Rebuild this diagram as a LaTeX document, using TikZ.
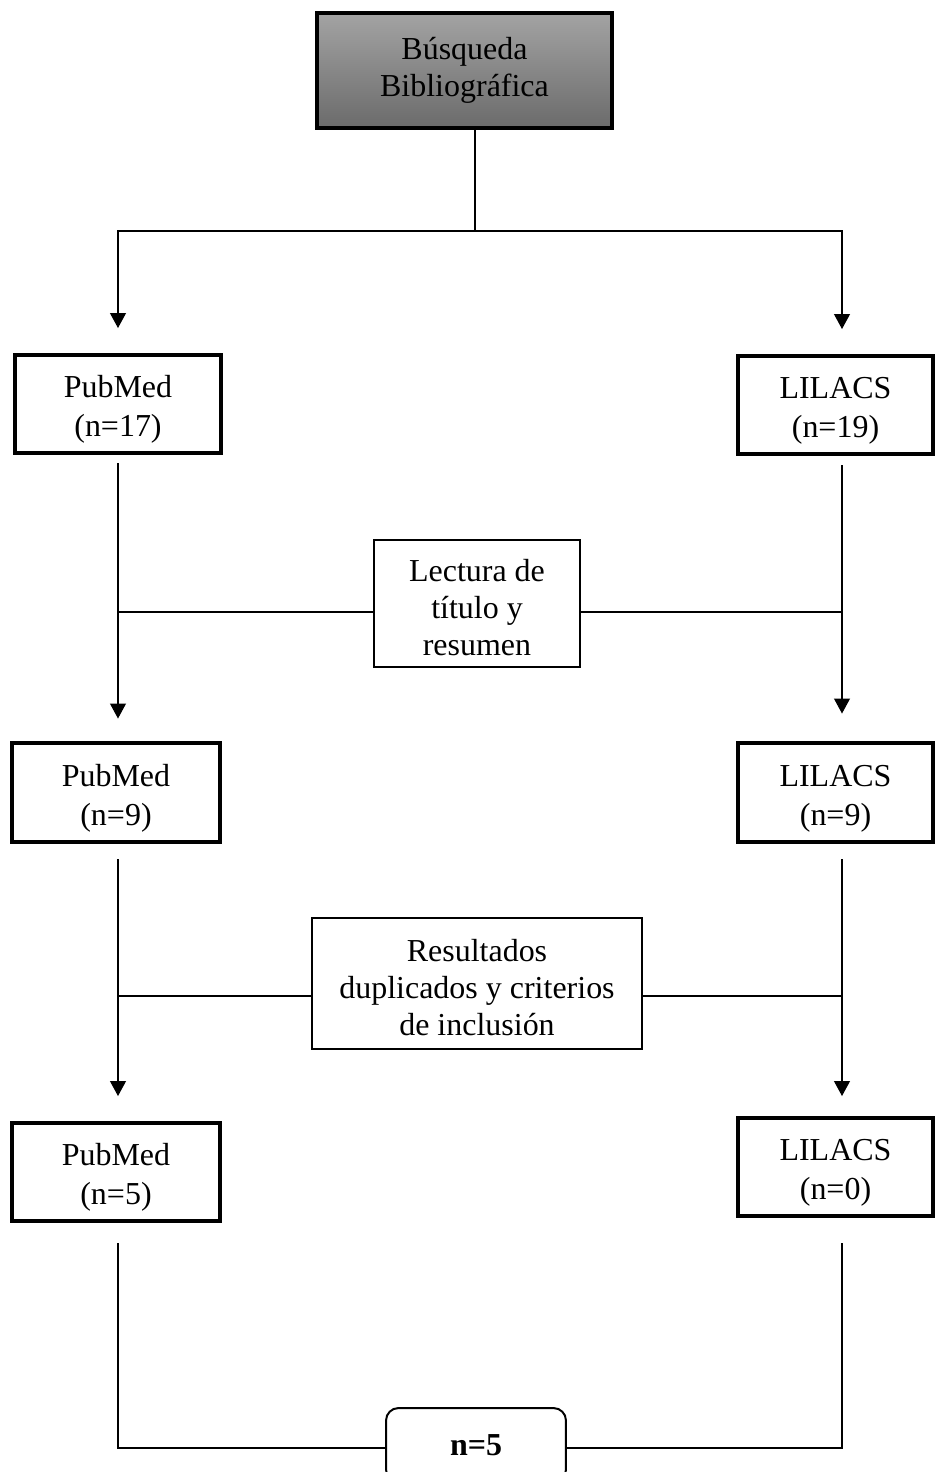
\documentclass[tikz,border=0pt]{standalone}
\usepackage{fontspec}
\setmainfont{Liberation Serif}
\usetikzlibrary{arrows.meta}

\newcommand{\dbstrut}{\rule{0pt}{19.2pt}}
\newcommand{\stagestrut}{\rule{0pt}{17.5pt}}

\tikzset{
  txt/.style={align=center, inner sep=0pt, font=\fontsize{18.2}{21}\selectfont},
  dbbox/.style={txt, draw, line width=0.08cm, font=\fontsize{18.2}{22.2}\selectfont},
  stagebox/.style={txt, draw, line width=0.04cm},
  searchbox/.style={txt, draw, line width=0.08cm, top color=black!36, bottom color=black!58},
  finalbox/.style={txt, draw, line width=0.04cm, rounded corners=0.25cm, font=\fontsize{18.2}{21}\selectfont\bfseries},
  link/.style={line width=0.6pt},
  arr/.style={link, -{Triangle[width=0.32cm,length=0.3cm]}}
}

\begin{document}
\begin{tikzpicture}[x=0.02cm, y=-0.02cm]
    \useasboundingbox (0,0) rectangle (935,1472);

    \node[searchbox, minimum width=5.9cm, minimum height=2.3cm] (busq) at (464.5,70.5) {Búsqueda\\Bibliográfica};

    \node[dbbox, minimum width=4.14cm, minimum height=1.96cm] (pub1) at (118,404) {\dbstrut PubMed\\(n=17)};
    \node[dbbox, minimum width=3.9cm, minimum height=1.96cm] (lil1) at (835.5,405) {\dbstrut LILACS\\(n=19)};
    \node[stagebox, minimum width=4.12cm, minimum height=2.54cm] (lect) at (477,603.5) {\stagestrut Lectura de\\título y\\resumen};
    \node[dbbox, minimum width=4.16cm, minimum height=1.98cm] (pub2) at (116,792.5) {\dbstrut PubMed\\(n=9)};
    \node[dbbox, minimum width=3.9cm, minimum height=1.98cm] (lil2) at (835.5,792.5) {\dbstrut LILACS\\(n=9)};
    \node[stagebox, minimum width=6.6cm, minimum height=2.62cm] (dupl) at (477,983.5) {\stagestrut Resultados\\duplicados y criterios\\de inclusión};
    \node[dbbox, minimum width=4.16cm, minimum height=1.96cm] (pub3) at (116,1172) {\dbstrut PubMed\\(n=5)};
    \node[dbbox, minimum width=3.9cm, minimum height=1.96cm] (lil3) at (835.5,1167) {\dbstrut LILACS\\(n=0)};
    \node[finalbox, minimum width=3.6cm, minimum height=1.48cm] (final) at (476,1445) {n=5};

    \coordinate (lcol) at (118,0);
    \coordinate (rcol) at (842,0);
    \coordinate (split) at (475,231);
    \coordinate (cut1) at (477,612);
    \coordinate (cut2) at (477,996);
    \coordinate (cut3) at (476,1448);

    \draw[link] (split |- busq.south) -- (split);
    \draw[arr, shorten >=0.5cm] (split) -| (lcol |- pub1.north);
    \draw[arr, shorten >=0.5cm] (split) -| (rcol |- lil1.north);

    \draw[arr, shorten <=0.16cm, shorten >=0.45cm] (lcol |- pub1.south) -- (lcol |- pub2.north);
    \draw[arr, shorten <=0.18cm, shorten >=0.55cm] (rcol |- lil1.south) -- (rcol |- lil2.north);
    \draw[link] (lect.west |- cut1) -- (lcol |- cut1);
    \draw[link] (lect.east |- cut1) -- (rcol |- cut1);

    \draw[arr, shorten <=0.3cm, shorten >=0.5cm] (lcol |- pub2.south) -- (lcol |- pub3.north);
    \draw[arr, shorten <=0.3cm, shorten >=0.4cm] (rcol |- lil2.south) -- (rcol |- lil3.north);
    \draw[link] (dupl.west |- cut2) -- (lcol |- cut2);
    \draw[link] (dupl.east |- cut2) -- (rcol |- cut2);

    \draw[link, shorten <=0.4cm] (lcol |- pub3.south) -- (lcol |- cut3) -- (final.west |- cut3);
    \draw[link, shorten <=0.5cm] (rcol |- lil3.south) -- (rcol |- cut3) -- (final.east |- cut3);
\end{tikzpicture}
\end{document}
